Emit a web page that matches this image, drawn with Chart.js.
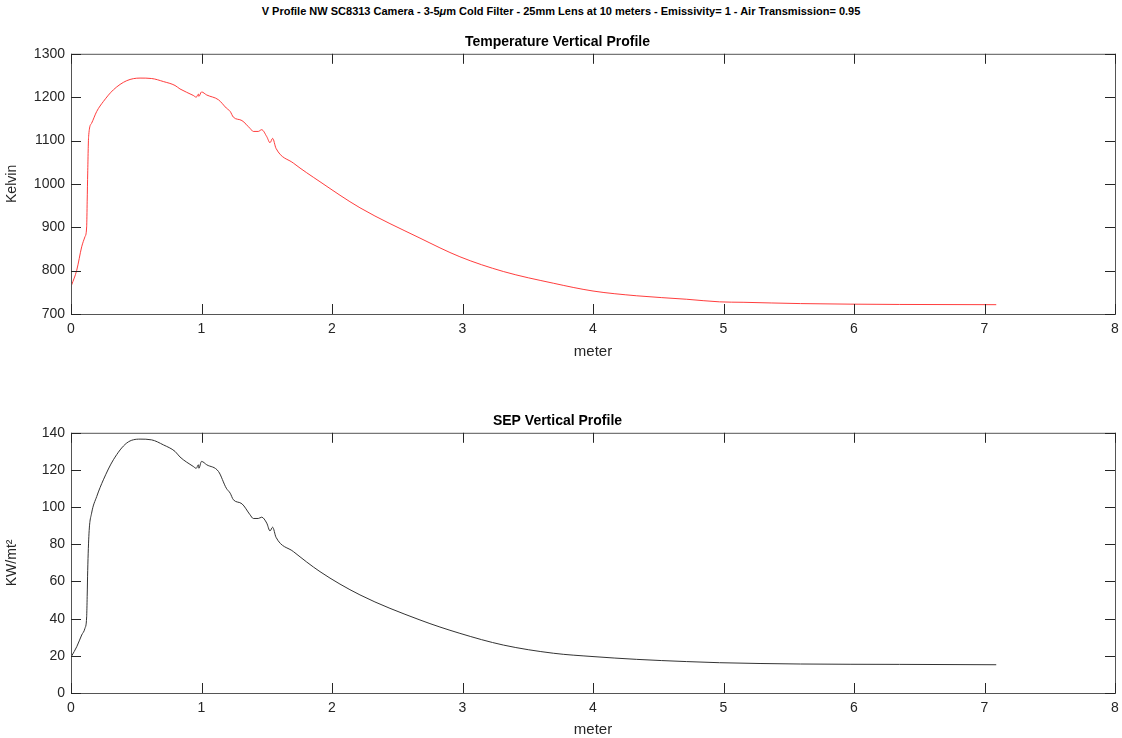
<!DOCTYPE html>
<html lang="en">
<head>
<meta charset="UTF-8">
<style>
  body { margin: 0; background: #fff; width: 1122px; height: 738px; position: relative; overflow: hidden; font-family: "Liberation Sans", Arial, sans-serif; }
  #suptitle { position: absolute; top: 5px; left: 0; width: 1122px; text-align: center; font-size: 11px; font-weight: bold; color: #000; }
  .box { position: absolute; left: 0; width: 1122px; }
</style>
</head>
<body>
<div id="suptitle">V Profile NW SC8313 Camera - 3-5<i>μ</i>m Cold Filter - 25mm Lens at 10 meters - Emissivity= 1 - Air Transmission= 0.95</div>
<div class="box" style="top:28px;height:342px"><canvas id="temp" width="1122" height="342"></canvas></div>
<div class="box" style="top:400px;height:343px"><canvas id="sep" width="1122" height="343"></canvas></div>

<script src="https://cdn.jsdelivr.net/npm/chart.js"></script>
<script>
    // temperature profile
    const xT = [0.005, 0.044, 0.082, 0.107, 0.12, 0.124, 0.128, 0.135, 0.158, 0.197, 0.248, 0.325, 0.427, 0.529, 0.618, 0.708, 0.797, 0.835, 0.937, 0.96, 0.976, 0.98, 1.0, 1.04, 1.13, 1.19, 1.22, 1.244, 1.31, 1.372, 1.397, 1.435, 1.461, 1.5, 1.525, 1.545, 1.571, 1.704, 1.908, 2.214, 2.674, 2.98, 3.313, 3.696, 4.0, 4.335, 4.718, 4.97, 5.15, 5.59, 6.35, 7.09];
    const temp = [767, 801, 855, 878, 901, 960, 1025, 1109, 1140, 1167, 1190, 1217, 1238, 1244, 1243, 1236, 1227, 1219, 1204, 1200, 1207, 1202, 1212, 1205, 1194, 1175, 1167, 1154, 1146, 1128, 1121, 1121, 1125, 1109, 1095, 1105, 1082, 1048, 1005, 945, 875, 832, 798, 771, 753, 742, 734, 728, 727, 724, 722, 721.5];

    // SEP profile
    const xS = [0.005, 0.044, 0.082, 0.107, 0.12, 0.124, 0.128, 0.138, 0.158, 0.197, 0.248, 0.325, 0.427, 0.529, 0.618, 0.708, 0.797, 0.835, 0.937, 0.96, 0.976, 0.98, 1.0, 1.04, 1.13, 1.19, 1.22, 1.244, 1.31, 1.372, 1.397, 1.435, 1.461, 1.5, 1.525, 1.545, 1.571, 1.704, 1.908, 2.214, 2.674, 2.98, 3.313, 3.696, 4.0, 4.335, 4.718, 4.97, 5.59, 6.35, 7.09];
    const sep = [19.9, 24.9, 31.2, 34.8, 41, 52, 66, 86, 96.8, 105.7, 114.7, 125.5, 134.5, 136.6, 136.2, 133.5, 130, 127, 121.9, 120.9, 122.8, 120.9, 124.6, 122.8, 119.2, 110.2, 107.5, 104, 101.8, 95.9, 93.9, 93.9, 94.6, 91.4, 87.2, 89.2, 83.8, 76.1, 65.3, 52.8, 39.3, 32.1, 25.8, 21.4, 19.6, 18.1, 16.9, 16.3, 15.6, 15.4, 15.2];

    const FONT = '"Liberation Sans", Arial, sans-serif';
    const INK = '#262626';

    // matlab style box with ticks pointing inwards
    const boxPlugin = {
        id: 'box',
        afterDraw(chart) {
            const { ctx, chartArea: a, scales } = chart;
            ctx.save();
            ctx.strokeStyle = '#555';
            ctx.lineWidth = 1;
            ctx.strokeRect(a.left + 0.5, a.top + 0.5, a.right - a.left, a.bottom - a.top);
            ctx.strokeStyle = INK;
            ctx.beginPath();
            scales.x.ticks.forEach(t => {
                const px = Math.round(scales.x.getPixelForValue(t.value)) + 0.5;
                ctx.moveTo(px, a.bottom); ctx.lineTo(px, a.bottom - 10);
                ctx.moveTo(px, a.top); ctx.lineTo(px, a.top + 10);
            });
            scales.y.ticks.forEach(t => {
                const py = Math.round(scales.y.getPixelForValue(t.value)) + 0.5;
                ctx.moveTo(a.left, py); ctx.lineTo(a.left + 10, py);
                ctx.moveTo(a.right, py); ctx.lineTo(a.right - 10, py);
            });
            ctx.stroke();
            ctx.restore();
        }
    };

    function makeChart(id, title, titleTop, xs, ys, color, yMin, yMax, yStep, yLabel, xHeight, meterPad) {
        const pts = xs.map((x, i) => ({ x: x, y: ys[i] }));
        return new Chart(document.getElementById(id), {
            type: 'line',
            data: { datasets: [{ data: pts, borderColor: color, borderWidth: 1, pointRadius: 0, cubicInterpolationMode: 'monotone' }] },
            options: {
                responsive: false,
                animation: false,
                layout: { padding: { left: 0, right: 7, top: 0, bottom: 0 } },
                plugins: {
                    legend: { display: false },
                    tooltip: { enabled: false },
                    title: { display: true, text: title, color: '#000', font: { family: FONT, size: 14, weight: 'bold' }, padding: { top: titleTop, bottom: 3 } }
                },
                scales: {
                    x: {
                        type: 'linear', min: 0, max: 8,
                        ticks: { stepSize: 1, color: INK, font: { family: FONT, size: 14 }, padding: 7, maxRotation: 0, callback: v => String(v) },
                        grid: { display: false, drawTicks: false },
                        border: { display: false },
                        title: { display: true, text: 'meter', color: INK, font: { family: FONT, size: 15 }, padding: { top: 0, bottom: meterPad } },
                        afterFit(s) { s.height = xHeight; s.paddingLeft = 0; s.paddingRight = 0; }
                    },
                    y: {
                        min: yMin, max: yMax,
                        ticks: { stepSize: yStep, color: INK, font: { family: FONT, size: 14 }, padding: 6, callback: v => String(v) },
                        grid: { display: false, drawTicks: false },
                        border: { display: false },
                        title: { display: true, text: yLabel, color: INK, font: { family: FONT, size: 14 }, padding: { bottom: 2 } },
                        afterFit(s) { s.width = 71; s.paddingTop = 0; s.paddingBottom = 0; }
                    }
                }
            },
            plugins: [boxPlugin]
        });
    }

    makeChart('temp', 'Temperature Vertical Profile', 6, xT, temp, 'rgba(255,40,40,0.9)', 700, 1300, 100, 'Kelvin', 56, 9);
    makeChart('sep', 'SEP Vertical Profile', 13, xS, sep, '#333', 0, 140, 20, 'KW/mt²', 50, 4);
</script>
</body>
</html>
